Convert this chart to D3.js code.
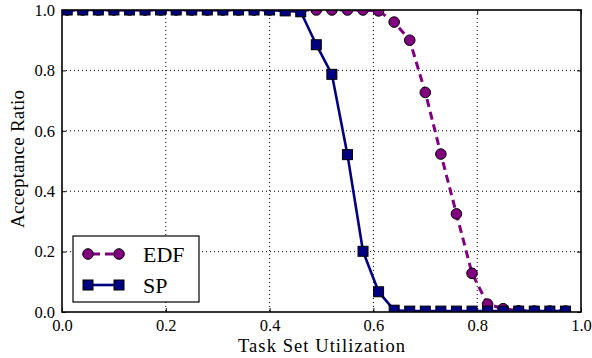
<!DOCTYPE html>
<html>
<head>
<meta charset="utf-8">
<script src="https://cdn.jsdelivr.net/npm/d3@7"></script>
</head>
<body style="margin:0; background:#fff">
<div id="chart"></div>
<script>
// utilization points
const utilization = [0.01, 0.04, 0.07, 0.10, 0.13, 0.16, 0.19, 0.22, 0.25, 0.28, 0.31,
  0.34, 0.37, 0.40, 0.43, 0.46, 0.49, 0.52, 0.55, 0.58, 0.61, 0.64, 0.67, 0.70,
  0.73, 0.76, 0.79, 0.82, 0.85, 0.88, 0.91, 0.94, 0.97];

const edfValues = [1, 1, 1, 1, 1, 1, 1, 1, 1, 1, 1,
  1, 1, 1, 1, 1, 1, 1, 1, 1, 0.997, 0.96, 0.90, 0.727,
  0.523, 0.325, 0.128, 0.026, 0.011, 0.004, 0.003, 0.003, 0.003];

const spValues = [1, 1, 1, 1, 1, 1, 1, 1, 1, 1, 1,
  1, 1, 1, 0.997, 0.994, 0.885, 0.787, 0.521, 0.201, 0.067, 0.006, 0.003, 0.003,
  0.003, 0.003, 0.003, 0.003, 0.003, 0.003, 0.003, 0.003, 0.003];

const ticks = [0, 0.2, 0.4, 0.6, 0.8, 1.0];
const seriesNames = ['EDF', 'SP'];

const width = 592, height = 358;
const margin = { top: 10, right: 11, bottom: 46, left: 62 };
const innerW = width - margin.left - margin.right;
const innerH = height - margin.top - margin.bottom;
const serif = "'Liberation Serif'";

const svg = d3.select('#chart').append('svg')
  .attr('width', width)
  .attr('height', height);

const g = svg.append('g')
  .attr('transform', 'translate(' + margin.left + ',' + margin.top + ')');

const x = d3.scaleLinear().domain([0, 1]).range([0, innerW]);
const y = d3.scaleLinear().domain([0, 1]).range([innerH, 0]);

svg.append('defs').append('clipPath').attr('id', 'plotclip')
  .append('rect').attr('width', innerW).attr('height', innerH);

// dotted grid
g.selectAll('.gx').data(ticks.slice(1, -1)).enter().append('line')
  .attr('x1', d => x(d)).attr('x2', d => x(d))
  .attr('y1', 0).attr('y2', innerH)
  .attr('stroke', '#000').attr('stroke-width', 1)
  .attr('stroke-dasharray', '1,3');
g.selectAll('.gy').data(ticks.slice(1, -1)).enter().append('line')
  .attr('y1', d => y(d)).attr('y2', d => y(d))
  .attr('x1', 0).attr('x2', innerW)
  .attr('stroke', '#000').attr('stroke-width', 1)
  .attr('stroke-dasharray', '1,3');

// axes with inward ticks on all sides
const fmt = d3.format('.1f');
const xAxis = g.append('g').attr('transform', 'translate(0,' + innerH + ')')
  .call(d3.axisBottom(x).tickValues(ticks).tickSizeInner(-4).tickSizeOuter(0).tickPadding(7).tickFormat(fmt));
const yAxis = g.append('g')
  .call(d3.axisLeft(y).tickValues(ticks).tickSizeInner(-4).tickSizeOuter(0).tickPadding(7).tickFormat(fmt));
g.append('g')
  .call(d3.axisTop(x).tickValues(ticks).tickSizeInner(-4).tickSizeOuter(0).tickFormat(''));
g.append('g').attr('transform', 'translate(' + innerW + ',0)')
  .call(d3.axisRight(y).tickValues(ticks).tickSizeInner(-4).tickSizeOuter(0).tickFormat(''));

g.selectAll('.domain').remove();
g.selectAll('.tick line').attr('stroke', '#000').attr('stroke-width', 1);
g.selectAll('.tick text')
  .style('font-family', serif).style('font-size', '16.5px').attr('fill', '#000');

// series
const plot = g.append('g').attr('clip-path', 'url(#plotclip)');
const line = d3.line().x(d => x(d[0])).y(d => y(d[1]));

const edfData = utilization.map((u, i) => [u, edfValues[i]]);
const spData = utilization.map((u, i) => [u, spValues[i]]);

plot.append('path').datum(edfData)
  .attr('d', line).attr('fill', 'none')
  .attr('stroke', '#800080').attr('stroke-width', 3)
  .attr('stroke-dasharray', '8,5');
plot.selectAll('.edf').data(edfData).enter().append('circle')
  .attr('cx', d => x(d[0])).attr('cy', d => y(d[1])).attr('r', 5.3)
  .attr('fill', '#800080').attr('stroke', '#000').attr('stroke-width', 1);

plot.append('path').datum(spData)
  .attr('d', line).attr('fill', 'none')
  .attr('stroke', '#000080').attr('stroke-width', 2.6);
plot.selectAll('.sp').data(spData).enter().append('rect')
  .attr('x', d => x(d[0]) - 5).attr('y', d => y(d[1]) - 5)
  .attr('width', 10).attr('height', 10)
  .attr('fill', '#000080').attr('stroke', '#000').attr('stroke-width', 1);

// frame
g.append('rect').attr('width', innerW).attr('height', innerH)
  .attr('fill', 'none').attr('stroke', '#000').attr('stroke-width', 1.6);

// axis labels
svg.append('text')
  .attr('x', margin.left + innerW / 2).attr('y', 352)
  .attr('text-anchor', 'middle')
  .style('font-family', serif).style('font-size', '18.5px')
  .attr('textLength', 167).attr('lengthAdjust', 'spacing')
  .text('Task Set Utilization');
svg.append('text')
  .attr('transform', 'translate(24,159) rotate(-90)')
  .attr('text-anchor', 'middle')
  .style('font-family', serif).style('font-size', '19px')
  .attr('textLength', 138).attr('lengthAdjust', 'spacing')
  .text('Acceptance Ratio');

// legend
const legend = svg.append('g').attr('transform', 'translate(73,236)');
legend.append('rect').attr('width', 126).attr('height', 66)
  .attr('fill', '#fff').attr('stroke', '#000').attr('stroke-width', 1.2);

const legRows = legend.selectAll('.row').data(seriesNames).enter().append('g')
  .attr('transform', (d, i) => 'translate(0,' + (18 + i * 31) + ')');

legRows.append('line')
  .attr('x1', 15).attr('x2', 46).attr('y1', 0).attr('y2', 0)
  .attr('stroke', d => d === 'EDF' ? '#800080' : '#000080')
  .attr('stroke-width', d => d === 'EDF' ? 3 : 2.6)
  .attr('stroke-dasharray', d => d === 'EDF' ? '8,5' : null)
  .attr('stroke-dashoffset', d => d === 'EDF' ? -4 : 0);

legRows.each(function (d) {
  const row = d3.select(this);
  [15, 46].forEach(px => {
    if (d === 'EDF') {
      row.append('circle').attr('cx', px).attr('cy', 0).attr('r', 5.3)
        .attr('fill', '#800080').attr('stroke', '#000').attr('stroke-width', 1);
    } else {
      row.append('rect').attr('x', px - 5).attr('y', -5).attr('width', 10).attr('height', 10)
        .attr('fill', '#000080').attr('stroke', '#000').attr('stroke-width', 1);
    }
  });
});

legRows.append('text')
  .attr('x', 70).attr('y', 7.5)
  .style('font-family', serif).style('font-size', '22px')
  .text(d => d);
</script>
</body>
</html>
